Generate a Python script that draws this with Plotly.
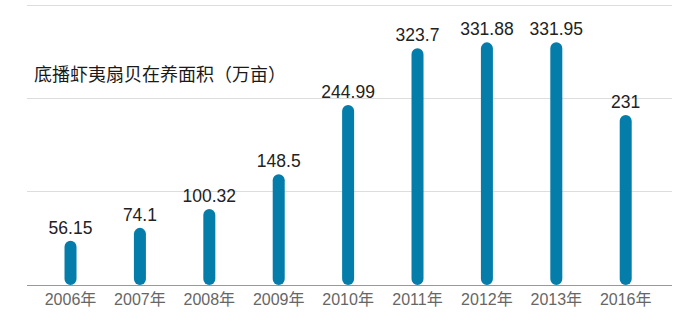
import plotly.graph_objects as go

years = ["2006年", "2007年", "2008年", "2009年", "2010年", "2011年", "2012年", "2013年", "2016年"]
values = [56.15, 74.1, 100.32, 148.5, 244.99, 323.7, 331.88, 331.95, 231]
labels = ["56.15", "74.1", "100.32", "148.5", "244.99", "323.7", "331.88", "331.95", "231"]
title_text = "底播虾夷扇贝在养面积（万亩）"

ymin = -5.3
dtick = 129.67
ymax = ymin + 3 * dtick + 1.5
fig = go.Figure()
fig.add_trace(go.Bar(
    x=years, y=[v - ymin for v in values], base=ymin,
    width=0.173,
    marker=dict(color="#057dab", cornerradius=6, line=dict(width=0)),
    text=labels, textposition="outside", cliponaxis=False, constraintext="none",
    textfont=dict(family="Liberation Sans, Arial", size=17.5, color="#222222"),
    hoverinfo="skip",
))

fig.update_layout(
    width=700, height=319,
    margin=dict(l=27, r=28, t=4, b=34),
    paper_bgcolor="white", plot_bgcolor="white",
    showlegend=False,
    xaxis=dict(range=[-0.627, 8.667], showgrid=False, showline=True,
               linecolor="#999999", linewidth=1, ticks="",
               tickfont=dict(family="Liberation Sans, Noto Sans CJK SC", size=16, color="#666666")),
    yaxis=dict(range=[ymin, ymax], tick0=ymin, dtick=dtick, showticklabels=False,
               gridcolor="#dddddd", gridwidth=1, zeroline=False, showline=False),
    annotations=[dict(text=title_text, xref="paper", yref="paper",
                      x=5/645, y=(285-73)/281, xanchor="left", yanchor="middle",
                      showarrow=False,
                      font=dict(family="Noto Sans CJK SC", size=18, color="#1a1a1a"))],
)
fig.write_html("out.html")
